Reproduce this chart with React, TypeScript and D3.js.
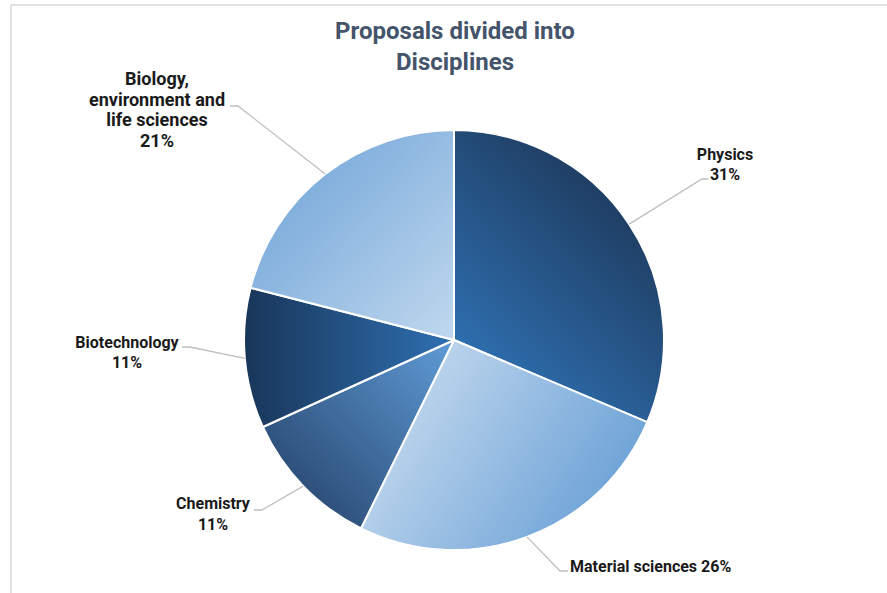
import React from "react";
import * as d3 from "d3";

// ---- data ----
const categories = [
  "Physics",
  "Material sciences",
  "Chemistry",
  "Biotechnology",
  "Biology, environment and life sciences",
];
const shares = [31.4, 25.9, 10.9, 10.8, 21.0];
const titleLines = ["Proposals divided into", "Disciplines"];

// ---- layout / style (not data) ----
const W = 887;
const H = 593;
const CX = 454;
const CY = 340;
const R = 210;
const FONT = "Roboto, 'Noto Sans', sans-serif";

// gradients per slice: [x1,y1,x2,y2, colorStart, colorEnd]
const gradients: [number, number, number, number, string, string][] = [
  [665, 150, 470, 360, "#1A2E4A", "#2E6FB0"],
  [390, 370, 625, 520, "#C6DBEF", "#679ED5"],
  [285, 505, 445, 350, "#284770", "#5C97D1"],
  [245, 0, 450, 0, "#193659", "#2E6FB0"],
  [250, 150, 455, 340, "#6DA2D7", "#C0D8EE"],
];

// label layout: text anchor x, first baseline, line height, font size, anchor, elbow x, end x, line y
const labelLayout = [
  { lines: (c: string, p: string) => [c, p], x: 725, y: 160, lh: 19.5, fs: 16, anchor: "middle", elbowX: 702, endX: 708, lineY: 179 },
  { lines: (c: string, p: string) => [`${c} ${p}`], x: 570, y: 572, lh: 20, fs: 16, anchor: "start", elbowX: 560, endX: 568, lineY: 571 },
  { lines: (c: string, p: string) => [c, p], x: 213, y: 509, lh: 20.5, fs: 16, anchor: "middle", elbowX: 262, endX: 254, lineY: 510 },
  { lines: (c: string, p: string) => [c, p], x: 127, y: 348, lh: 20, fs: 16, anchor: "middle", elbowX: 190, endX: 182, lineY: 347 },
  {
    lines: (_c: string, p: string) => ["Biology,", "environment and", "life sciences", p],
    x: 157, y: 85, lh: 20.7, fs: 18, anchor: "middle", elbowX: 238, endX: 230, lineY: 106,
  },
];

export default function App() {
  const pie = d3
    .pie<number>()
    .sort(null)
    .value((d) => d)
    .startAngle(0)
    .endAngle(2 * Math.PI);
  const arcs = pie(shares);
  const arc = d3.arc<d3.PieArcDatum<number>>().innerRadius(0).outerRadius(R);

  return (
    <div style={{ position: "fixed", left: 0, top: 0, width: W, height: H, background: "#fff" }}>
      <svg width={W} height={H} style={{ display: "block" }}>
        <defs>
          {gradients.map((g, i) => (
            <linearGradient
              key={i}
              id={`g${i}`}
              gradientUnits="userSpaceOnUse"
              x1={g[0] - CX}
              y1={g[1] - CY}
              x2={g[2] - CX}
              y2={g[3] - CY}
            >
              <stop offset="0" stopColor={g[4]} />
              <stop offset="1" stopColor={g[5]} />
            </linearGradient>
          ))}
        </defs>
        <rect x={0} y={0} width={W} height={H} fill="#fff" />
        <line x1={10} y1={5} x2={W} y2={5} stroke="#E3E3E3" strokeWidth={2} />
        <line x1={11} y1={5} x2={11} y2={H} stroke="#E3E3E3" strokeWidth={2} />

        {titleLines.map((t, i) => (
          <text
            key={t}
            x={CX + 1}
            y={39 + i * 31}
            textAnchor="middle"
            fontFamily={FONT}
            fontWeight={700}
            fontSize={24}
            fill="#44546A"
          >
            {t}
          </text>
        ))}

        <g transform={`translate(${CX},${CY})`}>
          {arcs.map((a, i) => (
            <path key={i} d={arc(a) || ""} fill={`url(#g${i})`} stroke="#fff" strokeWidth={2} strokeLinejoin="round" />
          ))}
        </g>

        {arcs.map((a, i) => {
          const mid = (a.startAngle + a.endAngle) / 2;
          const px = CX + R * Math.sin(mid);
          const py = CY - R * Math.cos(mid);
          const L = labelLayout[i];
          const pct = `${Math.round(shares[i])}%`;
          const lines = L.lines(categories[i], pct);
          return (
            <g key={i}>
              <polyline
                points={`${px},${py} ${L.elbowX},${L.lineY} ${L.endX},${L.lineY}`}
                fill="none"
                stroke="#BFBFBF"
                strokeWidth={1.3}
              />
              {lines.map((ln, j) => (
                <text
                  key={j}
                  x={L.x}
                  y={L.y + j * L.lh}
                  textAnchor={L.anchor as any}
                  fontFamily={FONT}
                  fontWeight={700}
                  fontSize={L.fs}
                  fill="#1A1A1A"
                >
                  {ln}
                </text>
              ))}
            </g>
          );
        })}
      </svg>
    </div>
  );
}
